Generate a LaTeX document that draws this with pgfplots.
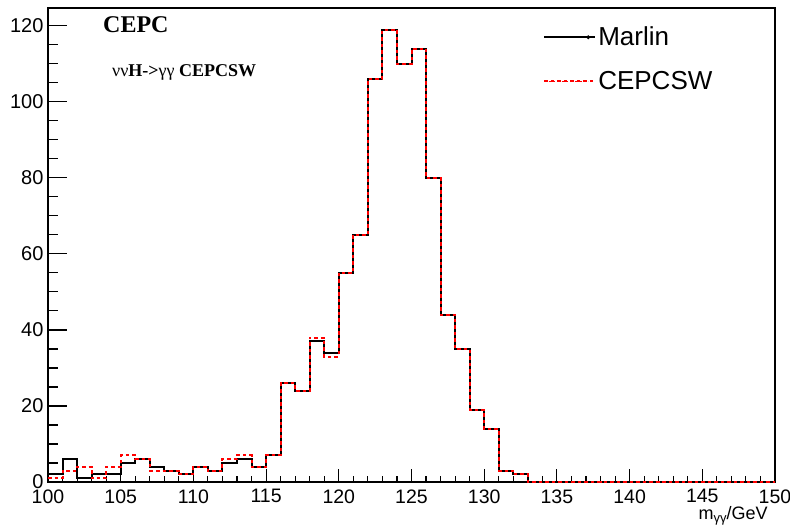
\documentclass[border=0pt]{standalone}
\usepackage{fontspec}
\setmainfont{Liberation Sans}
\newfontfamily\serifb{Liberation Serif}
\usepackage{pgfplots}
\pgfplotsset{compat=1.18}
\usepackage{pgfplotstable}

\pgfplotstableread{
x marlin cepcsw
100 2 1
101 6 3
102 1 4
103 2 1
104 2 4
105 5 7
106 6 6
107 4 3
108 3 3
109 2 2
110 4 4
111 3 3
112 5 6
113 6 7
114 4 4
115 7 7
116 26 26
117 24 24
118 37 38
119 34 33
120 55 55
121 65 65
122 106 106
123 119 119
124 110 110
125 114 114
126 80 80
127 44 44
128 35 35
129 19 19
130 14 14
131 3 3
132 2 2
133 0 0
134 0 0
135 0 0
136 0 0
137 0 0
138 0 0
139 0 0
140 0 0
141 0 0
142 0 0
143 0 0
144 0 0
145 0 0
146 0 0
147 0 0
148 0 0
149 0 0
150 0 0
}\histdata

\begin{document}
\begin{tikzpicture}
\useasboundingbox (0,0) rectangle (790bp,527bp);
\begin{axis}[
  at={(48bp,45bp)}, anchor=south west,
  scale only axis, width=727bp, height=474bp,
  xmin=100, xmax=150, ymin=0, ymax=124.7,
  xtick={100,105,...,150}, minor x tick num=4,
  ytick={0,20,...,120}, minor y tick num=3,
  tick align=inside, tick pos=left,
  axis line style={line width=1.3bp},
  major tick style={line width=1.1bp, black},
  minor tick style={line width=1.1bp, black},
  xtick style={/pgfplots/major tick length=13bp, /pgfplots/minor tick length=6.5bp},
  ytick style={/pgfplots/major tick length=19bp, /pgfplots/minor tick length=10bp},
  ticklabel style={font=\fontsize{20bp}{24bp}\selectfont},
  xticklabel style={font=\fontsize{19.5bp}{24bp}\selectfont, yshift=-4bp},
  /pgf/number format/assume math mode=true,
  yticklabel style={xshift=-1bp},
  xlabel={m\raisebox{-0.4ex}{\fontsize{13bp}{14bp}\selectfont γγ}/GeV},
  xlabel style={at={(axis description cs:0.99,0)}, anchor=base east, yshift=-37bp, inner sep=0pt, font=\fontsize{18bp}{21bp}\selectfont},
  clip=false,
  legend style={at={(axis description cs:0.681,0.977)}, anchor=north west,
    draw=none, fill=white, font=\fontsize{26bp}{30bp}\selectfont,
    row sep=20bp, inner xsep=0bp, inner ysep=6bp},
  legend cell align=left,
]
\addplot[const plot, black, line width=2bp,
  legend image code/.code={\draw[black,line width=2bp] (0bp,0bp) -- (26bp,0bp); \fill[black] (44bp,0bp) circle (0.7bp); \path (0bp,0bp) -- (51bp,0bp);}]
  table[x=x, y=marlin] {\histdata};
\addlegendentry{Marlin}
\addplot[const plot, red, line width=2bp, dash pattern=on 3.5bp off 3bp,
  legend image code/.code={\draw[red,line width=1.3bp,dash pattern=on 2.2bp off 2.2bp] (0bp,0bp) -- (44bp,0bp); \path (0bp,0bp) -- (51bp,0bp);}]
  table[x=x, y=cepcsw] {\histdata};
\addlegendentry{CEPCSW}
\node[anchor=west, inner sep=0pt, font=\serifb\bfseries\fontsize{24bp}{28bp}\selectfont] at (axis description cs:0.0757,0.964) {CEPC};
\node[anchor=west, inner sep=0pt, font=\serifb\fontsize{18bp}{21bp}\selectfont] at (axis description cs:0.088,0.865) {νν\textbf{H->}γγ \textbf{CEPCSW}};
\end{axis}
\end{tikzpicture}
\end{document}
